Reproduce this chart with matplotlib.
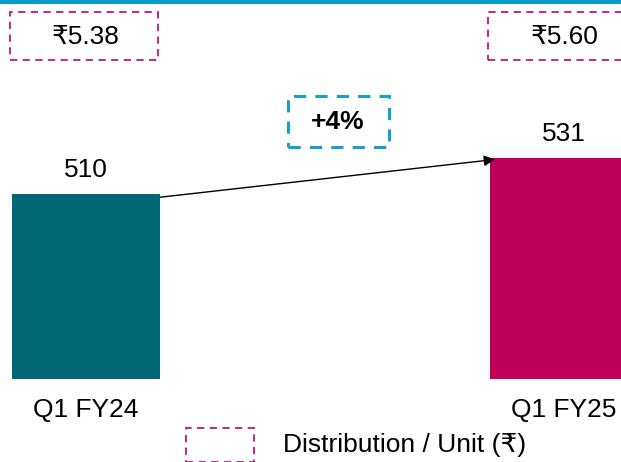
import matplotlib.pyplot as plt
from matplotlib.patches import Rectangle

plt.rcParams['font.family'] = ['Liberation Sans', 'DejaVu Sans']

categories = ["Q1 FY24", "Q1 FY25"]
values = [510, 531]
per_unit = ["₹5.38", "₹5.60"]
growth = "+4%"
legend_label = "Distribution / Unit (₹)"
colors = ["#006775", "#be0059"]
pink = "#c8166e"
blue = "#1a9fcc"
base = 402  # chart's axis does not start at zero

fig = plt.figure(figsize=(6.21, 4.62), dpi=100)
ax = fig.add_axes([0, 0, 1, 1])
ax.set_xlim(-0.18, 1.119)
ax.set_ylim(353.6, 623)
ax.axis("off")

x = [0, 1]
w = 0.31
ax.bar(x, [v - base for v in values], bottom=base, width=w, color=colors)

for xi, v, c in zip(x, values, categories):
    ax.text(xi, v + 7, str(v), ha="center", va="bottom", fontsize=19)
    ax.text(xi, 384, c, ha="center", va="center", fontsize=19)

# per-unit dashed boxes at top
for xi, lab in zip(x, per_unit):
    ax.add_patch(Rectangle((xi - w / 2 - 0.005, 588), w, 28, fill=False,
                           ls=(0, (4, 3)), lw=1.3, ec=pink, clip_on=False))
    ax.text(xi, 601.5, lab, ha="center", va="center", fontsize=19)

# growth arrow
ax.annotate("", xy=(1 - w / 2 + 0.01, values[1] - 1), xytext=(w / 2, values[0] - 2),
            arrowprops=dict(arrowstyle="-|>", color="black", lw=1,
                            mutation_scale=16, shrinkA=0, shrinkB=0))
ax.add_patch(Rectangle((0.422, 537), 0.211, 30, fill=False,
                       ls=(0, (4, 3)), lw=2.2, ec=blue))
ax.text(0.527, 552, growth, ha="center", va="center", fontsize=19, fontweight="bold")

# legend
ax.add_patch(Rectangle((0.209, 353.6), 0.142, 20, fill=False,
                       ls=(0, (4, 3)), lw=1.3, ec=pink, clip_on=False))
ax.text(0.412, 363.5, legend_label, ha="left", va="center", fontsize=19)

# top rule
fig.add_artist(Rectangle((0, 0.991), 1, 0.009, transform=fig.transFigure,
                         color="#0a9cc8", lw=0))

fig.savefig("out.png", dpi=100)
